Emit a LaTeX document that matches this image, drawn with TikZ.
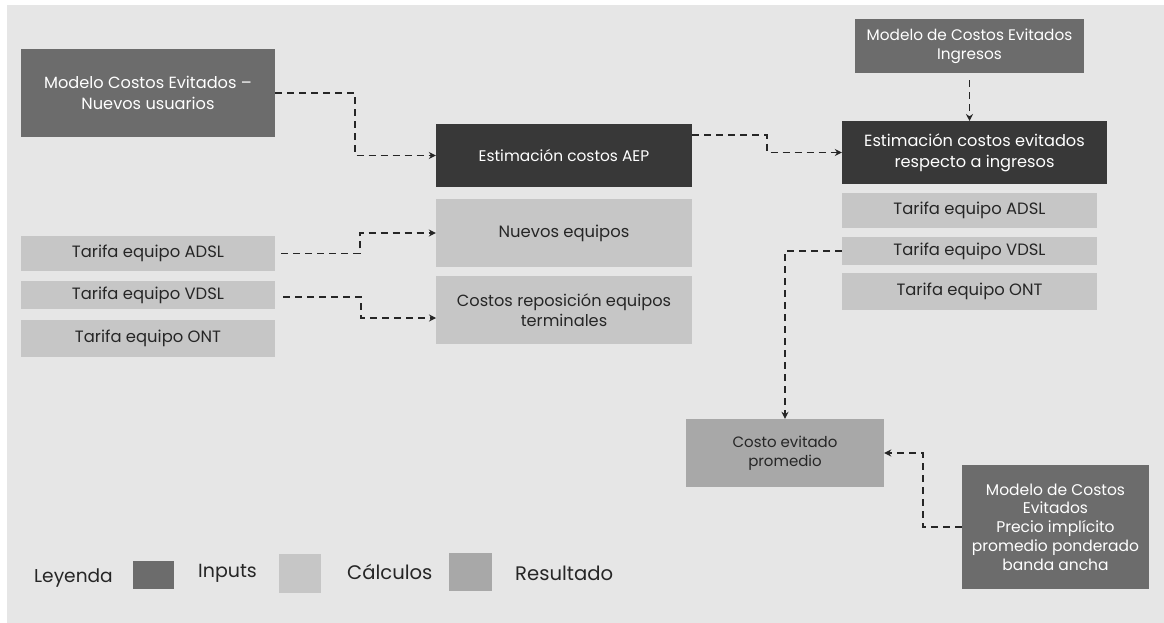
\documentclass[tikz,border=0pt]{standalone}
\usepackage{fontspec}
\setmainfont{Poppins}
\usetikzlibrary{arrows.meta}
\definecolor{pagebg}{HTML}{E6E6E6}
\definecolor{inputc}{HTML}{6C6C6C}
\definecolor{darkc}{HTML}{383838}
\definecolor{calcc}{HTML}{C6C6C6}
\definecolor{resc}{HTML}{A8A8A8}
\definecolor{inktext}{HTML}{262626}
\tikzset{
  x=1pt,y=-1pt,
  boxbase/.style={inner sep=0pt,align=center,font=\fontsize{16.4}{21}\selectfont,text=inktext},
  inputbox/.style={boxbase,fill=inputc,text=white},
  darkbox/.style={boxbase,fill=darkc,text=white},
  calcbox/.style={boxbase,fill=calcc},
  resbox/.style={boxbase,fill=resc},
  legendtext/.style={inner sep=0pt,text=inktext,font=\fontsize{19.6}{22}\selectfont},
  link/.style={draw=black!85,line width=1.7pt,dash pattern=on 7pt off 5pt,-{Stealth[length=7pt,width=7pt]}},
  sz/.style n args={2}{minimum width=#1pt,minimum height=#2pt},
}
\begin{document}
\begin{tikzpicture}
\useasboundingbox (0,0) rectangle (1164,623);
\fill[white] (0,0) rectangle (1164,623);
\fill[pagebg] (7,5) rectangle (1164,623);
% inputs
\node[inputbox,sz={254}{88},font=\fontsize{16.2}{21}\selectfont] (mce) at (148,93) {Modelo Costos Evitados --\\Nuevos usuarios};
\node[inputbox,sz={229}{54},font=\fontsize{15.3}{19}\selectfont] (mci) at (969.5,46) {Modelo de Costos Evitados\\Ingresos};
\node[inputbox,sz={187}{124},font=\fontsize{15.5}{18.7}\selectfont] (mpp) at (1055.5,527) {Modelo de Costos\\Evitados\\Precio implícito\\promedio ponderado\\banda ancha};
% dark boxes
\node[darkbox,sz={256}{63},font=\fontsize{15.4}{21}\selectfont] (aep) at (564,155.5) {Estimación costos AEP};
\node[darkbox,sz={265}{63},font=\fontsize{16.2}{21}\selectfont] (ecr) at (974.5,152.5) {Estimación costos evitados\\respecto a ingresos};
% calc boxes left
\node[calcbox,sz={254}{35}] (tal) at (148,253.5) {Tarifa equipo ADSL};
\node[calcbox,sz={254}{28}] (tvl) at (148,295) {Tarifa equipo VDSL};
\node[calcbox,sz={254}{37}] (tol) at (148,338.5) {Tarifa equipo ONT};
\node[calcbox,sz={256}{68}] (neq) at (564,233) {Nuevos equipos};
\node[calcbox,sz={256}{68},font=\fontsize{16.2}{20.5}\selectfont] (cre) at (564,310) {Costos reposición equipos\\terminales};
% calc boxes right
\node[calcbox,sz={255}{35}] (tar) at (969.5,210.5) {Tarifa equipo ADSL};
\node[calcbox,sz={255}{28}] (tvr) at (969.5,251) {Tarifa equipo VDSL};
\node[calcbox,sz={255}{37}] (tor) at (969.5,291.5) {Tarifa equipo ONT};
% result
\node[resbox,sz={198}{68},font=\fontsize{15}{18.5}\selectfont] (cep) at (785,453) {Costo evitado\\promedio};
% connectors
\coordinate (aepout) at (692,135);
\coordinate (vdslout) at (275,297);
\coordinate (creIn) at (436,318);
\coordinate (ecrtop) at (969.5,121);
\draw[link] (mce.east) -| (355,124) |- (aep.west);
\draw[link,shorten <=6pt] (tal.east) -| (360,243) |- (neq.west);
\draw[link,shorten <=8pt] (vdslout) -| (361,307) |- (creIn);
\draw[link] (aepout) -| (767,144) |- (ecr.west);
\draw[link,shorten <=7pt] (mci.south) -- (ecrtop);
\draw[link] (tvr.west) -| (cep.north);
\draw[link] (mpp.west) -| (923,490) |- (cep.east);
% legend
\node[legendtext,anchor=west,font=\fontsize{18.6}{22}\selectfont] (leg) at (34,578) {Leyenda};
\node[fill=inputc,inner sep=0pt,sz={41}{28}] (sw1) at (153.5,575) {};
\node[legendtext,anchor=west,font=\fontsize{19}{22}\selectfont] (lin) at (198,573) {Inputs};
\node[fill=calcc,inner sep=0pt,sz={42}{39}] (sw2) at (300,573.5) {};
\node[legendtext,anchor=west] (lca) at (347,572) {Cálculos};
\node[fill=resc,inner sep=0pt,sz={43}{38}] (sw3) at (470.5,572) {};
\node[legendtext,anchor=west] (lre) at (515,573) {Resultado};
\end{tikzpicture}
\end{document}
